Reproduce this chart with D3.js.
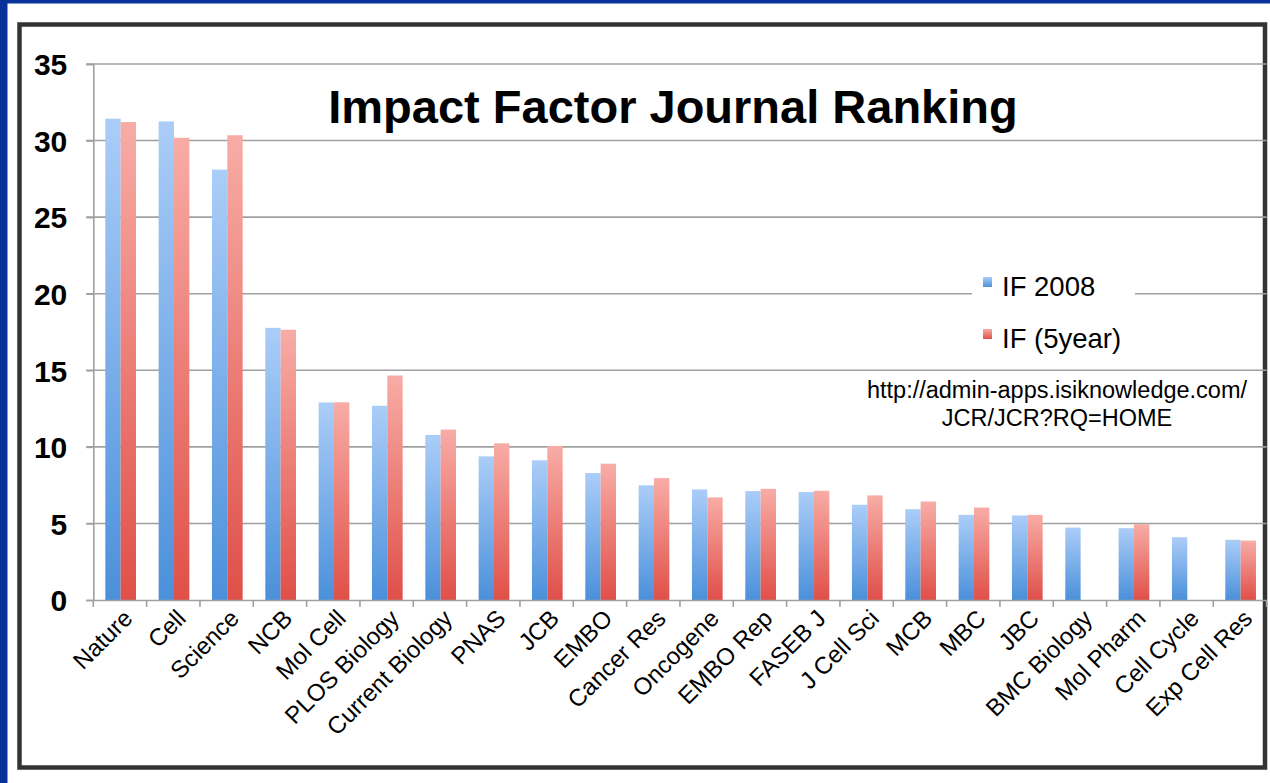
<!DOCTYPE html>
<html><head><meta charset="utf-8">
<script src="https://cdn.jsdelivr.net/npm/d3@7"></script>
<style>
html,body{margin:0;padding:0;background:#08329a;}
svg{display:block;}
text{font-family:"Liberation Sans",Arial,Helvetica,sans-serif;}
</style></head>
<body>
<svg id="chart" width="1270" height="783"></svg>
<script>
const categories = ["Nature","Cell","Science","NCB","Mol Cell","PLOS Biology","Current Biology","PNAS","JCB","EMBO","Cancer Res","Oncogene","EMBO Rep","FASEB J","J Cell Sci","MCB","MBC","JBC","BMC Biology","Mol Pharm","Cell Cycle","Exp Cell Res"];
const if2008 = [31.43,31.25,28.10,17.77,12.90,12.68,10.78,9.38,9.12,8.29,7.49,7.22,7.11,7.05,6.22,5.93,5.56,5.52,4.73,4.69,4.10,3.93];
const if5year = [31.21,30.18,30.35,17.65,12.91,14.66,11.13,10.23,10.06,8.90,7.96,6.70,7.26,7.13,6.83,6.43,6.04,5.56,null,4.95,null,3.88];
const seriesNames = ["IF 2008","IF (5year)"];
const yTicks = [0,5,10,15,20,25,30,35];
const titleText = "Impact Factor Journal Ranking";
const sourceLines = ["http://admin-apps.isiknowledge.com/","JCR/JCR?RQ=HOME"];

const svg = d3.select("#chart");
const W = 1270, H = 783;

// background panel
svg.append("rect").attr("x",0).attr("y",0).attr("width",W).attr("height",H).attr("fill","#08329a");
svg.append("rect").attr("x",7.5).attr("y",3.5).attr("width",W-7.5).attr("height",H-3.5).attr("fill","#ffffff");
svg.append("rect").attr("x",19.5).attr("y",24.5).attr("width",1245.5).attr("height",743).attr("fill","#ffffff")
  .attr("stroke","#333333").attr("stroke-width",4.5);

const defs = svg.append("defs");
function grad(id, top, bottom){
  const g = defs.append("linearGradient").attr("id",id).attr("x1",0).attr("y1",0).attr("x2",0).attr("y2",1);
  g.append("stop").attr("offset","0%").attr("stop-color",top);
  g.append("stop").attr("offset","100%").attr("stop-color",bottom);
}
grad("gBlue","#abcdf8","#4b90da");
grad("gRed","#f8aca6","#df5048");
const fills = ["url(#gBlue)","url(#gRed)"];

const plot = {left:93.3, right:1266.6, top:64, bottom:600};
const x = d3.scaleBand().domain(categories).range([plot.left, plot.right]).padding(0);
const x1 = d3.scaleBand().domain([0,1]).range([12, 12+30.7]).padding(0);
const y = d3.scaleLinear().domain([0,35]).range([plot.bottom, plot.top]);

// gridlines
svg.append("g").selectAll("line").data(yTicks.filter(d=>d>0)).join("line")
  .attr("x1",plot.left-7).attr("x2",plot.right)
  .attr("y1",d=>y(d)).attr("y2",d=>y(d))
  .attr("stroke","#a0a0a0").attr("stroke-width",1.6);

// legend box (white background covering gridlines)
svg.append("rect").attr("x",972).attr("y",262).attr("width",163).attr("height",100).attr("fill","#ffffff");

// y axis
const yAxis = d3.axisLeft(y).tickValues(yTicks).tickSize(7).tickPadding(19).tickFormat(d3.format("d"));
const gy = svg.append("g").attr("transform",`translate(${plot.left},0)`).call(yAxis);
gy.select(".domain").attr("stroke","#a0a0a0").attr("stroke-width",1.6);
gy.selectAll(".tick line").attr("stroke","#a0a0a0").attr("stroke-width",1.6);
gy.selectAll(".tick text").attr("fill","#000").style("font-size","30px").style("font-weight","bold").attr("dy","0.36em");

// bars
const groups = svg.append("g").selectAll("g").data(categories).join("g")
  .attr("transform",d=>`translate(${x(d)},0)`);
groups.selectAll("rect").data((d,i)=>[if2008[i], if5year[i]].map((v,s)=>({v,s})).filter(e=>e.v!=null))
  .join("rect")
  .attr("x",e=>x1(e.s)).attr("width",x1.bandwidth())
  .attr("y",e=>y(e.v)).attr("height",e=>y(0)-y(e.v))
  .attr("fill",e=>fills[e.s]);

// x axis
const xAxis = d3.axisBottom(x).tickSize(0).tickFormat("");
const gx = svg.append("g").attr("transform",`translate(0,${plot.bottom})`).call(xAxis);
gx.select(".domain").attr("stroke","#a0a0a0").attr("stroke-width",1.6);
// boundary ticks
const bounds = categories.map(c=>x(c)).concat([plot.right]);
svg.append("g").selectAll("line").data(bounds).join("line")
  .attr("x1",d=>d).attr("x2",d=>d).attr("y1",plot.bottom).attr("y2",plot.bottom+7)
  .attr("stroke","#a0a0a0").attr("stroke-width",1.6);

// x labels
svg.append("g").selectAll("text").data(categories).join("text")
  .attr("transform",d=>`translate(${x(d)+x.bandwidth()/2+2},${plot.bottom+8}) rotate(-45)`)
  .attr("text-anchor","end").attr("dy","0.7em")
  .style("font-size","24px").attr("fill","#000").text(d=>d);

// title
svg.append("text").attr("x",673).attr("y",123).attr("text-anchor","middle")
  .style("font-size","47px").style("font-weight","bold").attr("fill","#000").text(titleText);

// legend
const leg = svg.append("g").attr("transform","translate(983,0)");
seriesNames.forEach((n,i)=>{
  const yy = 277 + i*52;
  leg.append("rect").attr("x",0).attr("y",yy).attr("width",9).attr("height",10).attr("fill",fills[i]);
  leg.append("text").attr("x",19).attr("y",yy+19).style("font-size","27.5px").attr("fill","#000").text(n);
});

// source text
svg.append("text").attr("x",1057).attr("y",398).attr("text-anchor","middle").style("font-size","23.5px").attr("fill","#000")
  .selectAll("tspan").data(sourceLines).join("tspan").attr("x",1057).attr("dy",(d,i)=>i?28:0).text(d=>d);
</script>
</body></html>
